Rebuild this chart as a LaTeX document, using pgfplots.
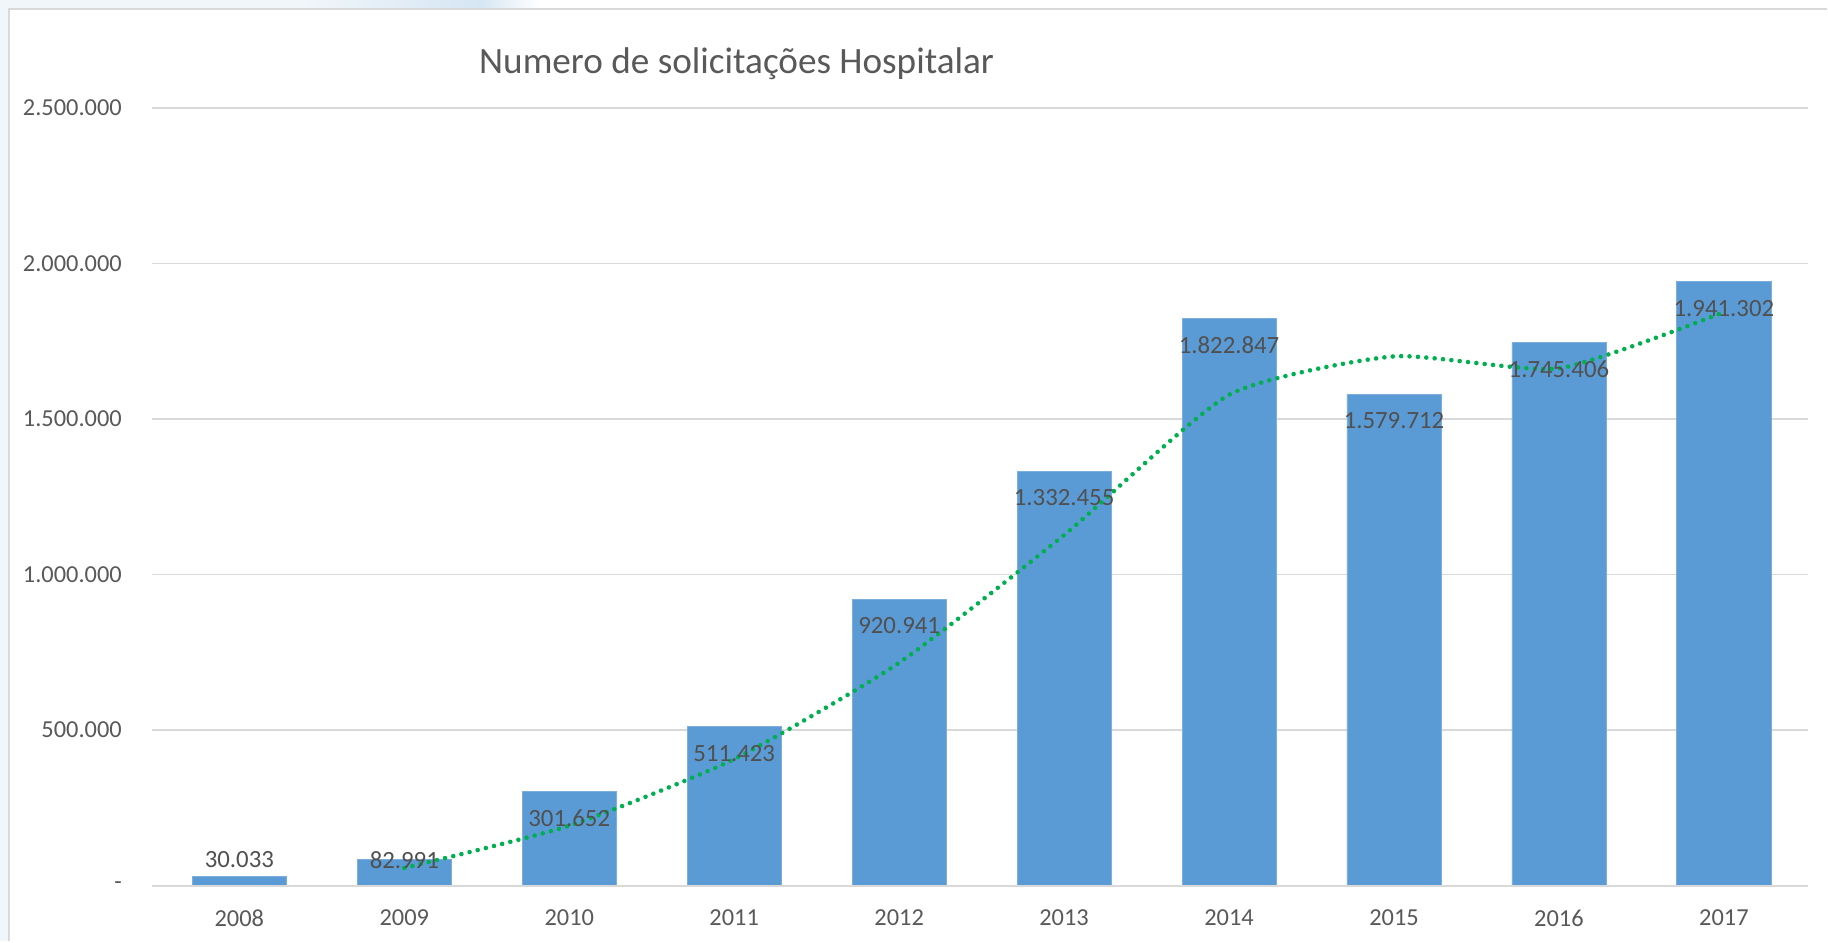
\documentclass[border=0pt]{standalone}
\usepackage{pgfplots}
\pgfplotsset{compat=1.18}
\usepackage{pgfplotstable}
\usepackage{fontspec}
\setmainfont{Carlito}
\definecolor{barblue}{HTML}{5B9BD5}
\definecolor{trendgreen}{HTML}{00B050}
\definecolor{txtgray}{HTML}{595959}
\definecolor{gridgray}{HTML}{D9D9D9}
\definecolor{bgblue}{HTML}{F1F6FB}
\definecolor{bgblue2}{HTML}{D6E6F3}

\pgfplotstableread{
x year value
0 2008 30033
1 2009 82991
2 2010 301652
3 2011 511423
4 2012 920941
5 2013 1332455
6 2014 1822847
7 2015 1579712
8 2016 1745406
9 2017 1941302
}\bars

\pgfplotstableread{
x labpos lab
0 82460 30.033
1 82991 82.991
2 215450 301.652
3 425220 511.423
4 834740 920.941
5 1246250 1.332.455
6 1736650 1.822.847
7 1493510 1.579.712
8 1659200 1.745.406
9 1855100 1.941.302
}\labels

\pgfplotstableread{
x ma
1 56512
2 192321.5
3 406537.5
4 716182
5 1126698
6 1577651
7 1701279.5
8 1662559
9 1843354
}\movavg

\begin{document}
\begin{tikzpicture}[x=1pt,y=1pt]
% background and frame
\fill[white] (0,0) rectangle (457,235.5);
\fill[bgblue] (0,233.25) rectangle (457,235.5);
\fill[bgblue] (0,0) rectangle (2.25,235.5);
\shade[left color=bgblue, right color=bgblue2] (75,233.25) rectangle (120,235.5);
\shade[left color=bgblue2, right color=white] (120,233.25) rectangle (135,235.5);
\fill[white] (135,233.25) rectangle (457,235.5);
\draw[gridgray, line width=0.5pt] (2.25,0) -- (2.25,233.25) -- (457,233.25);
\begin{axis}[
  at={(38pt,14pt)}, anchor=south west,
  scale only axis, width=414.25pt, height=194.5pt,
  xmin=-0.53, xmax=9.51, ymin=0, ymax=2500000,
  scaled y ticks=false,
  axis line style={draw=none},
  axis x line*=bottom,
  ytick={0,500000,1000000,1500000,2000000,2500000},
  yticklabels={-\hspace{1.8pt},500.000,1.000.000,1.500.000,2.000.000,2.500.000},
  xtick={0,...,9},
  xticklabels={2008,2009,2010,2011,2012,2013,2014,2015,2016,2017},
  major tick length=0pt,
  ymajorgrids, grid style={gridgray, line width=0.4pt},
  tick label style={font=\fontsize{6.1}{7}\selectfont, text=txtgray},
  yticklabel style={xshift=-4pt},
  xticklabel style={yshift=-2.5pt},
  clip=false,
]
\addplot[ybar, bar width=0.57, fill=barblue, draw=barblue!80!white, line width=0.2pt] table[x=x, y=value] {\bars};
\draw[gridgray, line width=0.5pt] (axis cs:-0.53,0) -- (axis cs:9.51,0);
\addplot[draw=none, mark=none, nodes near coords, point meta=explicit symbolic,
  every node near coord/.append style={anchor=center, font=\fontsize{6.2}{7}\selectfont, text=txtgray!90!black, inner sep=0pt}]
  table[x=x, y=labpos, meta=lab] {\labels};
\addplot[trendgreen, line width=1.15pt, line cap=round, dash pattern=on 0pt off 2.1pt, smooth, tension=0.35, mark=none] table[x=x, y=ma] {\movavg};
\end{axis}
\node[text=txtgray, font=\fontsize{9.3}{11}\selectfont] at (184.25,219.5) {Numero de solicitações Hospitalar};
\end{tikzpicture}
\end{document}
